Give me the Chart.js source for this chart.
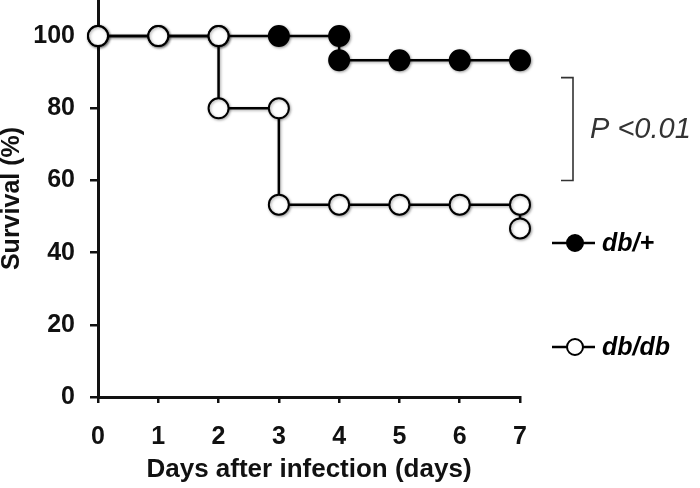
<!DOCTYPE html>
<html><head><meta charset="utf-8">
<script src="https://cdn.jsdelivr.net/npm/chart.js@4.4.1/dist/chart.umd.min.js"></script>
<style>html,body{margin:0;padding:0;background:#fff}#wrap{width:700px;height:488px}</style>
</head><body><div id="wrap"><canvas id="c" width="700" height="488"></canvas></div>
<script>
const seriesNames = ['db/+', 'db/db'];
const dbPlusDays = [0, 1, 2, 3, 4, 4, 5, 6, 7];
const dbPlusSurvival = [100, 100, 100, 100, 100, 93.3, 93.3, 93.3, 93.3];
const dbDbDays = [0, 1, 2, 2, 3, 3, 4, 5, 6, 7, 7];
const dbDbSurvival = [100, 100, 100, 80, 80, 53.3, 53.3, 53.3, 53.3, 53.3, 46.7];
const xTicks = [0, 1, 2, 3, 4, 5, 6, 7];
const yTicks = [0, 20, 40, 60, 80, 100];
const pValueText = 'P <0.01';
const bracketRange = [88.5, 60];
const xTitle = 'Days after infection (days)';
const yTitle = 'Survival (%)';

const FONT = '"Liberation Sans", Arial, Helvetica, sans-serif';
const toPts = (xs, ys) => xs.map((x, i) => ({x: x, y: ys[i]}));

const shadowPlugin = {
  id: 'shadow',
  beforeDatasetsDraw(chart) {
    const ctx = chart.ctx;
    ctx.save();
    ctx.shadowColor = 'rgba(0,0,0,0.35)';
    ctx.shadowBlur = 3;
    ctx.shadowOffsetX = 1;
    ctx.shadowOffsetY = 1;
  },
  afterDatasetsDraw(chart) { chart.ctx.restore(); }
};

const extrasPlugin = {
  id: 'extras',
  afterDraw(chart) {
    const ctx = chart.ctx;
    const ys = chart.scales.y;
    const right = chart.chartArea.right;
    // P bracket
    const bx = right + 53;
    const yTop = ys.getPixelForValue(bracketRange[0]);
    const yBot = ys.getPixelForValue(bracketRange[1]);
    ctx.save();
    ctx.strokeStyle = '#333';
    ctx.lineWidth = 1.6;
    ctx.beginPath();
    ctx.moveTo(bx - 12, yTop); ctx.lineTo(bx, yTop); ctx.lineTo(bx, yBot); ctx.lineTo(bx - 12, yBot);
    ctx.stroke();
    ctx.fillStyle = '#333';
    ctx.font = 'italic 29px ' + FONT;
    ctx.textBaseline = 'middle';
    ctx.textAlign = 'left';
    ctx.fillText(pValueText, bx + 17, (yTop + yBot) / 2 + 1);
    // legend
    const legendYs = [243, 347];
    const ds = chart.data.datasets;
    const order = [1, 0];
    order.forEach((di, k) => {
      const d = ds[di];
      const ly = legendYs[k];
      ctx.strokeStyle = '#000';
      ctx.lineWidth = 2.5;
      ctx.beginPath(); ctx.moveTo(right + 32, ly); ctx.lineTo(right + 75, ly); ctx.stroke();
      ctx.beginPath(); ctx.arc(right + 55, ly, 8, 0, Math.PI * 2);
      ctx.fillStyle = d.backgroundColor; ctx.fill();
      ctx.lineWidth = 2; ctx.stroke();
      ctx.fillStyle = '#000';
      ctx.font = 'italic bold 25px ' + FONT;
      ctx.fillText(d.label, right + 82, ly + 1);
    });
    ctx.restore();
  }
};

new Chart(document.getElementById('c'), {
  type: 'scatter',
  data: {
    datasets: [
      {
        label: seriesNames[1],
        data: toPts(dbDbDays, dbDbSurvival),
        showLine: true,
        borderColor: '#000',
        backgroundColor: '#fff',
        pointBackgroundColor: '#fff',
        pointBorderColor: '#000',
        pointBorderWidth: 2,
        pointRadius: 10,
        borderWidth: 2.5,
        clip: false
      },
      {
        label: seriesNames[0],
        data: toPts(dbPlusDays, dbPlusSurvival),
        showLine: true,
        borderColor: '#000',
        backgroundColor: '#000',
        pointBackgroundColor: '#000',
        pointBorderColor: '#000',
        pointBorderWidth: 2,
        pointRadius: 10,
        borderWidth: 2.5,
        clip: false
      }
    ]
  },
  options: {
    responsive: false,
    animation: false,
    devicePixelRatio: 1,
    layout: {autoPadding: false, padding: {left: 0, right: 180, top: 0, bottom: 0}},
    plugins: {legend: {display: false}, tooltip: {enabled: false}},
    scales: {
      x: {
        type: 'linear', min: 0, max: 7,
        afterBuildTicks(s) { s.ticks = xTicks.map(v => ({value: v})); },
        afterFit(s) { s.height = 91; s.paddingLeft = 0; s.paddingRight = 0; },
        grid: {drawOnChartArea: false, drawTicks: true, tickLength: 6, color: '#111', lineWidth: 2.5},
        border: {display: true, color: '#111', width: 3},
        ticks: {color: '#111', padding: 19, maxRotation: 0, font: {family: FONT, size: 25, weight: 'bold'}},
        title: {display: true, text: xTitle, color: '#111', padding: {top: 0, bottom: 5},
          font: {family: FONT, size: 26, weight: 'bold', lineHeight: 1}}
      },
      y: {
        type: 'linear', min: 0, max: 110,
        afterBuildTicks(s) { s.ticks = yTicks.map(v => ({value: v})); },
        afterFit(s) { s.width = 98; s.paddingTop = 0; s.paddingBottom = 0; },
        grid: {drawOnChartArea: false, drawTicks: true, tickLength: 8, color: '#111', lineWidth: 2.5},
        border: {display: true, color: '#111', width: 3},
        ticks: {color: '#111', padding: 15, font: {family: FONT, size: 25, weight: 'bold'}},
        title: {display: true, text: yTitle, color: '#111', padding: {top: 0, bottom: 0},
          font: {family: FONT, size: 25, weight: 'bold', lineHeight: 1}}
      }
    }
  },
  plugins: [shadowPlugin, extrasPlugin]
});
</script>
</body></html>
